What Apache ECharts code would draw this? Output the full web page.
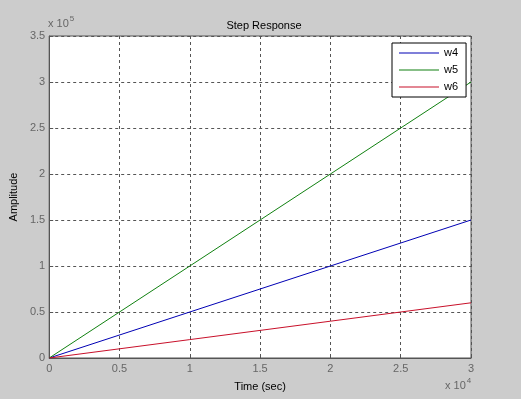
<!DOCTYPE html>
<html>
<head>
<meta charset="utf-8">
<script src="https://cdn.jsdelivr.net/npm/echarts@6/dist/echarts.min.js"></script>
<style>
  html, body { margin: 0; padding: 0; background: #cccccc; }
  #main { width: 521px; height: 399px; }
</style>
</head>
<body>
<div id="main"></div>
<script>
// time in seconds, amplitudes
var timeSec = [0, 10000, 20000, 30000];
var w4 = [0, 50000, 100000, 150000];
var w5 = [0, 100000, 200000, 300000];
var w6 = [0, 20000, 40000, 60000];
var seriesNames = ['w4', 'w5', 'w6'];
var seriesColors = ['#0000b4', '#108010', '#c8102a'];

function pairs(ys) {
    var out = [];
    for (var i = 0; i < timeSec.length; i++) out.push([timeSec[i], ys[i]]);
    return out;
}

var font = 'Liberation Sans';
// thin line icon for the legend, bounding box padded to 40x14
var lineIcon = 'path://M0,0 L0,0 M40,14 L40,14 M0,6.5 L40,6.5 L40,7.5 L0,7.5 Z';

var lines = [w4, w5, w6].map(function (ys, i) {
    return {
        name: seriesNames[i],
        type: 'line',
        data: pairs(ys),
        symbol: 'none',
        animation: false,
        lineStyle: { width: 1, color: seriesColors[i] },
        itemStyle: { color: seriesColors[i] }
    };
});

var option = {
    backgroundColor: '#cccccc',
    animation: false,
    title: {
        text: 'Step Response',
        left: 259, top: 15, textAlign: 'center',
        textStyle: { fontFamily: font, fontSize: 11, fontWeight: 'normal', color: '#000' }
    },
    legend: {
        orient: 'vertical',
        left: 392, top: 43,
        padding: [3, 8, 3, 7],
        itemGap: 3,
        itemWidth: 40, itemHeight: 14,
        backgroundColor: '#fff',
        borderColor: '#000', borderWidth: 1,
        textStyle: { fontFamily: font, fontSize: 11, color: '#000' },
        data: seriesNames.map(function (n) { return { name: n, icon: lineIcon }; })
    },
    grid: {
        left: 48, top: 36, right: 50, bottom: 41,
        show: true, backgroundColor: '#fff',
        borderColor: '#555', borderWidth: 1
    },
    xAxis: {
        type: 'value',
        min: 0, max: 30000, interval: 5000,
        name: 'Time (sec)', nameLocation: 'middle', nameGap: 23,
        nameTextStyle: { fontFamily: font, fontSize: 11, color: '#000' },
        axisLine: { lineStyle: { color: '#555' } },
        axisTick: { inside: true, length: 4, lineStyle: { color: '#555' } },
        axisLabel: {
            fontFamily: font, fontSize: 11, color: '#666', margin: 5,
            formatter: function (v) { return String(v / 10000); }
        },
        splitLine: { lineStyle: { color: '#555', type: [3, 3] } }
    },
    yAxis: {
        type: 'value',
        min: 0, max: 350000, interval: 50000,
        name: 'Amplitude', nameLocation: 'middle', nameGap: 26, nameRotate: 90,
        nameTextStyle: { fontFamily: font, fontSize: 11, color: '#000' },
        axisLine: { show: true, lineStyle: { color: '#555' } },
        axisTick: { show: true, inside: true, length: 4, lineStyle: { color: '#555' } },
        axisLabel: {
            fontFamily: font, fontSize: 11, color: '#666', margin: 4,
            formatter: function (v) { return String(v / 100000); }
        },
        splitLine: { lineStyle: { color: '#555', type: [3, 3] } }
    },
    graphic: [
        {
            type: 'text', left: 48, top: 15,
            style: {
                text: '{b|x 10}{s|5}',
                rich: {
                    b: { fontFamily: font, fontSize: 11, fill: '#666', padding: [4, 0, 0, 0] },
                    s: { fontFamily: font, fontSize: 8, fill: '#666', padding: [0, 0, 6, 1] }
                }
            }
        },
        {
            type: 'text', left: 445, top: 377,
            style: {
                text: '{b|x 10}{s|4}',
                rich: {
                    b: { fontFamily: font, fontSize: 11, fill: '#666', padding: [4, 0, 0, 0] },
                    s: { fontFamily: font, fontSize: 8, fill: '#666', padding: [0, 0, 6, 1] }
                }
            }
        }
    ],
    series: lines
};

echarts.init(document.getElementById('main')).setOption(option);
</script>
</body>
</html>
